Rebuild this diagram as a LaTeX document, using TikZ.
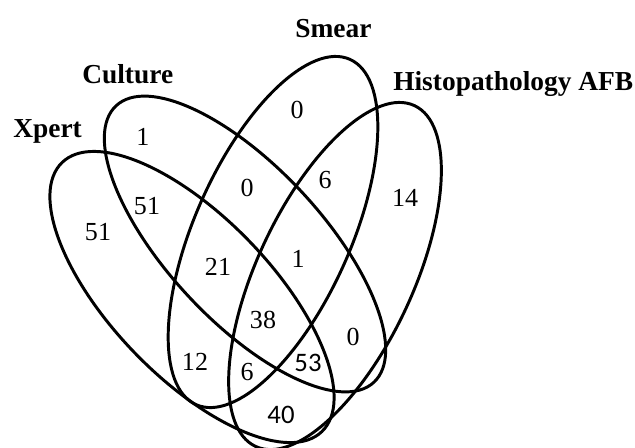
\documentclass[tikz,border=0pt]{standalone}
\usepackage{fontspec}
\setmainfont{Liberation Serif}
\newfontfamily\sansdigits{Carlito}
\begin{document}
\begin{tikzpicture}[x=0.025cm, y=-0.025cm,
	setline/.style={line width=2.1pt},
	setname/.style={font=\fontsize{19.5}{22}\selectfont\bfseries, anchor=base west, inner sep=0pt},
	count/.style={font=\fontsize{18.5}{22}\selectfont, inner sep=0pt},
	sanscount/.style={count, font=\fontsize{19}{22}\selectfont\sansdigits}]
	\useasboundingbox (0,0) rectangle (635,447);
	% the four sets
	\draw[setline, rotate around={-46:(192,297)}] (192,297) ellipse [x radius=187, y radius=80];
	\draw[setline, rotate around={-47:(245,244)}] (245,244) ellipse [x radius=189, y radius=77];
	\draw[setline, rotate around={66:(273,232)}] (273,232) ellipse [x radius=189, y radius=78];
	\draw[setline, rotate around={65:(335,276)}] (335,276) ellipse [x radius=188, y radius=78];
	% set names
	\node[setname] (xpert) at (13,137) {Xpert};
	\node[setname] (culture) at (82,83) {Culture};
	\node[setname] (smear) at (295,37) {Smear};
	\node[setname] (histo) at (393,90) {Histopathology AFB};
	% counts
	\node[count] (n1) at (297,110) {0};
	\node[count] (n2) at (143,137) {1};
	\node[count] (n3) at (98,232) {51};
	\node[count] (n4) at (147,206) {51};
	\node[count] (n5) at (247,188) {0};
	\node[count] (n6) at (325,180) {6};
	\node[count] (n7) at (405,198) {14};
	\node[count] (n8) at (218,267) {21};
	\node[count] (n9) at (298,259) {1};
	\node[count] (n10) at (263,320) {38};
	\node[count] (n11) at (353,337) {0};
	\node[count] (n12) at (195,362) {12};
	\node[count] (n13) at (247,372) {6};
	\node[sanscount] (n14) at (308,363) {53};
	\node[sanscount] (n15) at (281,415) {40};
\end{tikzpicture}
\end{document}
